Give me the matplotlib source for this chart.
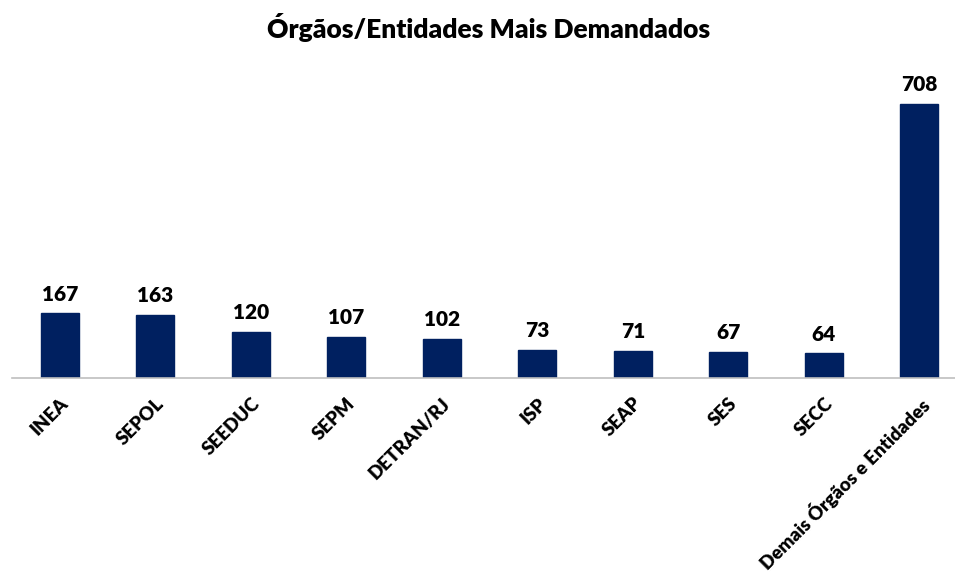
import matplotlib
matplotlib.use('Agg')
import matplotlib.pyplot as plt

categories = ['INEA', 'SEPOL', 'SEEDUC', 'SEPM', 'DETRAN/RJ', 'ISP', 'SEAP', 'SES', 'SECC',
              'Demais Órgãos e Entidades']
values = [167, 163, 120, 107, 102, 73, 71, 67, 64, 708]

plt.rcParams['font.family'] = ['Lato', 'DejaVu Sans']

fig = plt.figure(figsize=(9.55, 5.85), dpi=100)
# axes: left edge at 12px, baseline at 378px, top at 80px
ax = fig.add_axes([12 / 955, 1 - 378 / 585, 955 / 955, 298 / 585])

x = range(len(categories))
bars = ax.bar(x, values, width=0.4, color='#002060', edgecolor='#002060')

for b, v in zip(bars, values):
    ax.annotate(str(v), (b.get_x() + b.get_width() / 2, v), xytext=(0, 7),
                textcoords='offset points', ha='center', va='bottom',
                fontsize=15, fontweight='heavy', color='#000000')

ax.set_xlim(-0.5, len(categories) - 0.5)
ax.set_ylim(0, 770)
ax.set_xticks(list(x))
ax.set_xticklabels(categories, rotation=45, ha='right', rotation_mode='anchor',
                   fontsize=13.5, fontweight='heavy')
ax.tick_params(axis='x', length=0, pad=12)
ax.set_yticks([])
for s in ['top', 'right', 'left']:
    ax.spines[s].set_visible(False)
ax.spines['bottom'].set_color('#BFBFBF')
ax.spines['bottom'].set_linewidth(1.2)

fig.text(489 / 955, 1 - 28 / 585, 'Órgãos/Entidades Mais Demandados', ha='center', va='center',
         fontsize=19, fontweight='heavy')

fig.savefig('out.png', dpi=100)
